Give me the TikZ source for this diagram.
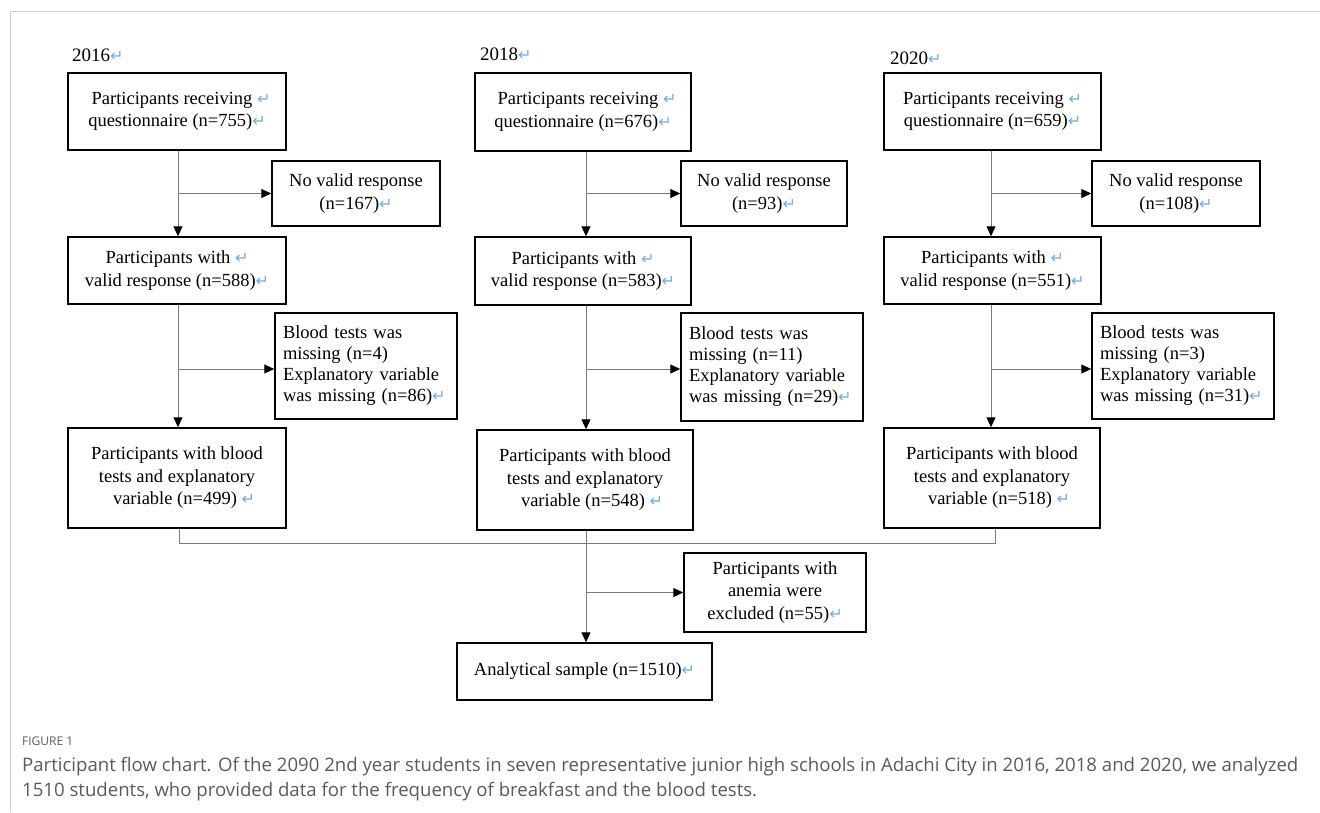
\documentclass[tikz,border=0pt]{standalone}
\usepackage{fontspec}
\setmainfont{Liberation Serif}
\newfontfamily\retfont{DejaVu Sans}
\newfontfamily\capfont{Open Sans}
\usetikzlibrary{arrows.meta,positioning}
\definecolor{retblue}{HTML}{74A9E6}
\definecolor{linegray}{HTML}{7A7A7A}
\definecolor{framegray}{HTML}{CCCCCC}
\definecolor{capgray}{HTML}{5A5A5A}
\newcommand{\rt}{{\retfont\fontsize{16}{16}\selectfont\textcolor{retblue}{↵}}}
\tikzset{
  box/.style={draw=black, line width=1.5pt, inner sep=3pt, align=center,
    font=\fontsize{18.5}{22.5}\selectfont},
  lbox/.style={box, align=left, font=\fontsize{18.5}{21}\selectfont},
  conn/.style={draw=linegray, line width=1pt},
  arr/.style={conn, -{Triangle[length=10pt,width=9pt,color=black,fill=black]}},
  yearlbl/.style={inner sep=0pt, anchor=west, font=\fontsize{19}{20}\selectfont},
}
\begin{document}
\begin{tikzpicture}[x=1pt,y=-1pt]
\useasboundingbox (0,0) rectangle (1320,812);
\draw[framegray, line width=1pt] (10,812) -- (10,11) -- (1320,11);

% year labels
\node[yearlbl] (y1) at (72,55) {2016\rt};
\node[yearlbl] (y2) at (480,54) {2018\rt};
\node[yearlbl] (y3) at (890,58) {2020\rt};

% ---- 2016 column
\node[box, minimum width=218pt, minimum height=77pt] (a1) at (177,111.5)
  {\hspace*{8pt}Participants receiving \rt\\questionnaire (n=755)\rt};
\node[box, minimum width=168pt, minimum height=65pt] (b1) at (356,193.5)
  {No valid response\\(n=167)\rt};
\node[box, minimum width=218pt, minimum height=67pt] (c1) at (177,270.5)
  {Participants with \rt\\valid response (n=588)\rt};
\node[lbox, minimum width=182pt, minimum height=106pt, text width=166pt] (d1) at (366,366)
  {Blood tests was\\missing (n=4)\\Explanatory variable\\was missing (n=86)\rt};
\node[box, minimum width=218pt, minimum height=100pt] (e1) at (177,478)
  {Participants with blood\\tests and explanatory\\\hspace*{14pt}variable (n=499) \rt};

% ---- 2018 column
\node[box, minimum width=216pt, minimum height=78pt] (a2) at (583,112)
  {\hspace*{8pt}Participants receiving \rt\\questionnaire (n=676)\rt};
\node[box, minimum width=166pt, minimum height=65pt] (b2) at (764,193.5)
  {No valid response\\(n=93)\rt};
\node[box, minimum width=216pt, minimum height=68pt] (c2) at (583,271)
  {Participants with \rt\\valid response (n=583)\rt};
\node[lbox, minimum width=182pt, minimum height=108pt, text width=166pt] (d2) at (772,367)
  {Blood tests was\\missing (n=11)\\Explanatory variable\\was missing (n=29)\rt};
\node[box, minimum width=216pt, minimum height=100pt] (e2) at (585,480)
  {Participants with blood\\tests and explanatory\\\hspace*{14pt}variable (n=548) \rt};

% ---- 2020 column
\node[box, minimum width=217pt, minimum height=77pt] (a3) at (992.5,111.5)
  {Participants receiving \rt\\questionnaire (n=659)\rt};
\node[box, minimum width=168pt, minimum height=65pt] (b3) at (1176,193.5)
  {No valid response\\(n=108)\rt};
\node[box, minimum width=217pt, minimum height=67pt] (c3) at (992.5,270.5)
  {Participants with \rt\\valid response (n=551)\rt};
\node[lbox, minimum width=182pt, minimum height=106pt, text width=166pt] (d3) at (1183,366)
  {Blood tests was\\missing (n=3)\\Explanatory variable\\was missing (n=31)\rt};
\node[box, minimum width=216pt, minimum height=100pt] (e3) at (992,478)
  {Participants with blood\\tests and explanatory\\\hspace*{14pt}variable (n=518) \rt};

% ---- bottom
\node[box, minimum width=182pt, minimum height=79pt] (h) at (775,592.5)
  {Participants with\\anemia were\\excluded (n=55)\rt};
\node[box, minimum width=255pt, minimum height=57pt] (g) at (584.5,671.5)
  {Analytical sample (n=1510)\rt};

% ---- connectors 2016
\coordinate (v1) at (178,0);
\draw[arr] (v1 |- a1.south) -- (v1 |- c1.north);
\draw[arr] (v1 |- b1.west) -- (b1.west);
\draw[arr] (v1 |- c1.south) -- (v1 |- e1.north);
\draw[arr] (v1 |- 0,369) -- (d1.west |- 0,369);
% 2018
\coordinate (v2) at (586,0);
\draw[arr] (v2 |- a2.south) -- (v2 |- c2.north);
\draw[arr] (v2 |- b2.west) -- (b2.west);
\draw[arr] (v2 |- c2.south) -- (v2 |- e2.north);
\draw[arr] (v2 |- 0,369) -- (d2.west |- 0,369);
% 2020
\coordinate (v3) at (991,0);
\draw[arr] (v3 |- a3.south) -- (v3 |- c3.north);
\draw[arr] (v3 |- b3.west) -- (b3.west);
\draw[arr] (v3 |- c3.south) -- (v3 |- e3.north);
\draw[arr] (v3 |- 0,369) -- (d3.west |- 0,369);

% merge
\coordinate (m) at (586,543);
\draw[conn] (179,0 |- e1.south) -- (179,543) -- (995,543) -- (995,0 |- e3.south);
\draw[conn] (v2 |- e2.south) -- (m);
\draw[arr] (m) -- (m |- g.north);
\draw[arr] (m |- h.west) -- (h.west);

% caption
\node[anchor=west, inner sep=0pt, text=capgray, font=\capfont\fontsize{12}{13}\selectfont] (cap0) at (22,741) {FIGURE 1};
\node[anchor=north west, inner sep=0pt, align=left, text=capgray,
  font=\capfont\fontsize{18.6}{25}\selectfont] (cap1) at (22,757)
  {Participant flow chart. Of the 2090 2nd year students in seven representative junior high schools in Adachi City in 2016, 2018 and 2020, we analyzed\\
   1510 students, who provided data for the frequency of breakfast and the blood tests.};
\end{tikzpicture}
\end{document}
